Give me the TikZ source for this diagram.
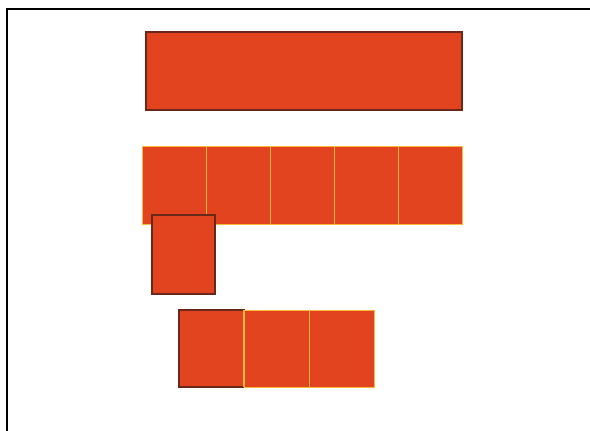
\documentclass[tikz,border=0pt]{standalone}
\usetikzlibrary{positioning}
\definecolor{cellred}{RGB}{226,68,32}
\definecolor{cellyellow}{RGB}{250,185,60}
\definecolor{edgebrown}{RGB}{105,40,25}
\begin{document}
\begin{tikzpicture}[x=1pt, y=-1pt,
    cell/.style={rectangle, fill=cellred, draw=cellyellow, line width=1pt,
        minimum width=64pt, minimum height=78pt, inner sep=0pt, outer sep=0pt},
    darkcell/.style={cell, draw=edgebrown, line width=1.2pt},
    frame/.style={line width=2.6pt, black},
    node distance=0pt
]
\useasboundingbox (0,0) rectangle (590,431);
% frame, left and top only
\coordinate (fbl) at (7,432);
\coordinate (ftl) at (7,9);
\coordinate (ftr) at (591,9);
\draw[frame] (fbl) -- (ftl) -- (ftr);

\node[darkcell, minimum width=316pt, anchor=north west] (bar) at (146,32) {};

% row of five
\node[cell, anchor=north west] (c1) at (142,146) {};
\foreach \i [count=\j from 2] in {1,...,4}
    \node[cell, right=of c\i] (c\j) {};

\node[darkcell, minimum width=63pt, minimum height=79pt, anchor=north west] (pick) at (152,215) {};

% row of three
\node[darkcell, minimum width=65pt, minimum height=77pt, anchor=north west] (b1) at (179,310) {};
\node[cell, minimum width=65pt, minimum height=77pt, right=of b1] (b2) {};
\node[cell, minimum width=65pt, minimum height=77pt, right=of b2] (b3) {};
\draw[cellyellow, line width=1.5pt] (b1.north east) -- (b1.south east);
\end{tikzpicture}
\end{document}
